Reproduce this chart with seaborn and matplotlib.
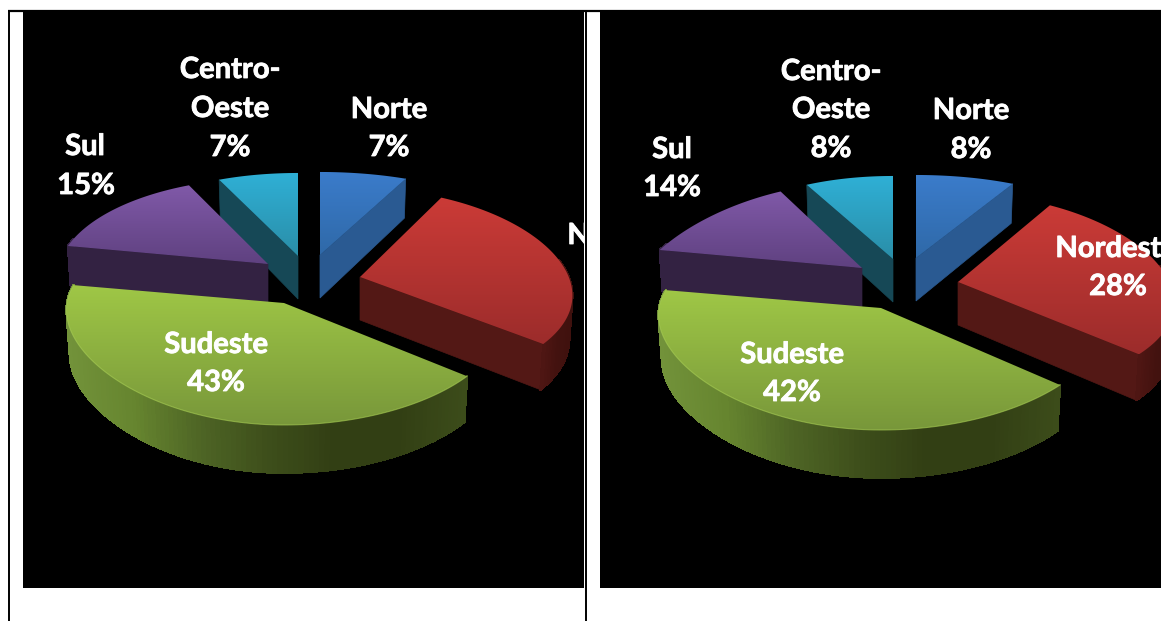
import numpy as np
import matplotlib
matplotlib.use('Agg')
import matplotlib.pyplot as plt
import matplotlib.patheffects as pe
from matplotlib.collections import PolyCollection
from matplotlib.patches import Polygon
import seaborn as sns

regions = ['Norte', 'Nordeste', 'Sudeste', 'Sul', 'Centro-Oeste']
shares_left = [7, 28, 43, 15, 7]
shares_right = [8, 28, 42, 14, 8]

# top / bottom colour of the upper face, then radial wall and arc wall
TOP_COLORS = {
    'Norte': ('#3b7ccb', '#2f69a8'),
    'Nordeste': ('#cb3b37', '#9c2c2b'),
    'Sudeste': ('#9fc746', '#78973a'),
    'Sul': ('#8059a8', '#5f4180'),
    'Centro-Oeste': ('#2fb0d6', '#2a8ea8'),
}
WALL_COLORS = {
    'Norte': '#2a5a92',
    'Nordeste': '#531815',
    'Sudeste': '#3a4a18',
    'Sul': '#332242',
    'Centro-Oeste': '#164856',
}
ARC_COLORS = {
    'Norte': ['#2a5a92', '#2a5a92'],
    'Nordeste': ['#4f1613', '#43120f', '#3f110e'],
    'Sudeste': ['#72923a', '#66852f', '#4e6525', '#3e4f1b', '#323f14', '#323f14', '#3c4c1a'],
    'Sul': ['#332242', '#332242'],
    'Centro-Oeste': ['#164856', '#164856'],
}
DRAW_ORDER = ['Norte', 'Centro-Oeste', 'Sul', 'Nordeste', 'Sudeste']

# tip x, tip y, horizontal radius, x perspective, y perspective, downward sag of the right side
LEFT_TIPS = {
    'Norte': (320, 255, 214, 0.07, 0.19, 0), 'Nordeste': (360, 277, 211, 0.116, 0.12, 7),
    'Sudeste': (284, 303, 217, 0.07, 0.19, 12),
    'Sul': (268, 264, 209, 0.139, 0.15, 0), 'Centro-Oeste': (298, 256, 197, 0.07, 0.19, 0),
}
RIGHT_TIPS = {
    'Norte': (916, 258, 213, 0.07, 0.19, 0), 'Nordeste': (958, 282, 214, 0.139, 0.12, 7),
    'Sudeste': (881, 308, 222, 0.07, 0.19, 9),
    'Sul': (862, 268, 219, 0.338, 0.15, 0), 'Centro-Oeste': (893, 259, 190, 0.07, 0.19, 0),
}
LEFT_LABELS = [
    ('Centro-', 230, 70), ('Oeste', 230, 109), ('7%', 230, 148),
    ('Norte', 389, 110), ('7%', 389, 148),
    ('Sul', 85, 147), ('15%', 86, 186),
    ('Sudeste', 216, 345), ('43%', 216, 383),
    ('Nordeste', 628, 236), ('28%', 628, 274),
]
RIGHT_LABELS = [
    ('Centro-', 831, 72), ('Oeste', 831, 110), ('8%', 831, 149),
    ('Norte', 971, 111), ('8%', 971, 150),
    ('Sul', 672, 150), ('14%', 672, 188),
    ('Sudeste', 792, 355), ('42%', 792, 393),
    ('Nordeste', 1116, 249), ('28%', 1118, 287),
]


def project(theta, rx, kx, ky, sag, lower=False):
    x = np.sin(theta)
    y = np.cos(theta)
    sx = rx * x / (1 + kx * y)
    sy = -98.8 * y / (1 + ky * y) + sag * np.clip(x, 0, None) ** 2
    if lower:
        sx = sx * 0.985
        sy = sy + 43 / (1 + 0.1 * y)
    return sx, sy


def draw_slice(ax, name, start, stop, tip, z):
    tx, ty, rx, kx, ky, sag = tip
    thetas = np.linspace(start, stop, 120)

    ux, uy = project(thetas, rx, kx, ky, sag)
    lx, ly = project(thetas, rx, kx, ky, sag, lower=True)
    ux, uy, lx, ly = ux + tx, uy + ty, lx + tx, ly + ty
    base = (tx, ty + 43)

    # radial walls, only the ones facing the viewer
    if np.sin(stop) > 1e-6:
        ax.add_patch(Polygon([(tx, ty), (ux[-1], uy[-1]), (lx[-1], ly[-1]), base],
                             fc=WALL_COLORS[name], ec=WALL_COLORS[name], lw=0.5, zorder=z))
    if np.sin(start) < -1e-6:
        ax.add_patch(Polygon([(tx, ty), (ux[0], uy[0]), (lx[0], ly[0]), base],
                             fc=WALL_COLORS[name], ec=WALL_COLORS[name], lw=0.5, zorder=z))

    # outer wall, shaded along the screen x
    front = np.cos(thetas) < 0.25
    if front.any():
        cmap = sns.blend_palette(ARC_COLORS[name], as_cmap=True)
        quads, colors = [], []
        span = max(ux[front].max() - ux[front].min(), 1)
        for i in range(len(thetas) - 1):
            if not front[i]:
                continue
            quads.append([(ux[i], uy[i]), (ux[i + 1], uy[i + 1]), (lx[i + 1], ly[i + 1]), (lx[i], ly[i])])
            colors.append(cmap((ux[i] - ux[front].min()) / span))
        ax.add_collection(PolyCollection(quads, facecolors=colors, edgecolors=colors, lw=1.0,
                                         antialiased=False, zorder=z + 0.1))

    # upper face with vertical gradient
    outline = np.column_stack([np.r_[tx, ux], np.r_[ty, uy]])
    face = Polygon(outline, transform=ax.transData, fc='none', ec='none', zorder=z + 0.2)
    ax.add_patch(face)
    cmap = sns.blend_palette(TOP_COLORS[name], as_cmap=True)
    grad = np.linspace(0, 1, 256)[:, None]
    im = ax.imshow(grad, cmap=cmap, aspect='auto', origin='upper',
                   extent=(outline[:, 0].min(), outline[:, 0].max(), outline[:, 1].max(), outline[:, 1].min()),
                   zorder=z + 0.2)
    im.set_clip_path(face)

    if name == 'Sudeste':
        ax.plot(ux, uy, color='#a9cf55', lw=0.8, alpha=0.6, zorder=z + 0.3)


def draw_chart(ax, shares, tips, labels):
    ax.set_facecolor('black')
    edges = np.cumsum([0] + shares) / sum(shares) * 2 * np.pi
    bounds = dict(zip(regions, zip(edges[:-1], edges[1:])))
    for z, name in enumerate(DRAW_ORDER):
        start, stop = bounds[name]
        draw_slice(ax, name, start, stop, tips[name], 2 * z + 1)
    for text, x, y in labels:
        t = ax.text(x, y, text, color='white', fontsize=21, fontweight='bold', ha='center',
                    va='center', clip_on=True, zorder=30)
        t.set_path_effects([pe.withStroke(linewidth=0.6, foreground='white')])


sns.set_theme(style='white')
plt.rcParams['font.family'] = ['Lato', 'DejaVu Sans']

fig = plt.figure(figsize=(11.61, 6.21), dpi=100, facecolor='white')


def pixel_axes(x0, y0, x1, y1):
    ax = fig.add_axes([x0 / 1161, 1 - y1 / 621, (x1 - x0) / 1161, (y1 - y0) / 621])
    ax.set_xticks([])
    ax.set_yticks([])
    for spine in ax.spines.values():
        spine.set_visible(False)
    return ax


back = pixel_axes(0, 0, 1161, 621)
back.hlines(11, 8, 1161, color='black', lw=1.6)
back.vlines(8.5, 11, 621, color='black', lw=1.4)
back.vlines(585.5, 11, 621, color='black', lw=1.4)
back.set_xlim(0, 1161)
back.set_ylim(621, 0)

ax_left = pixel_axes(23, 12, 584, 588)
draw_chart(ax_left, shares_left, LEFT_TIPS, LEFT_LABELS)
ax_left.set_xlim(23, 584)
ax_left.set_ylim(588, 12)

ax_right = pixel_axes(600, 12, 1161, 588)
draw_chart(ax_right, shares_right, RIGHT_TIPS, RIGHT_LABELS)
ax_right.set_xlim(600, 1161)
ax_right.set_ylim(588, 12)

fig.savefig('out.png', dpi=100)
plt.close(fig)
